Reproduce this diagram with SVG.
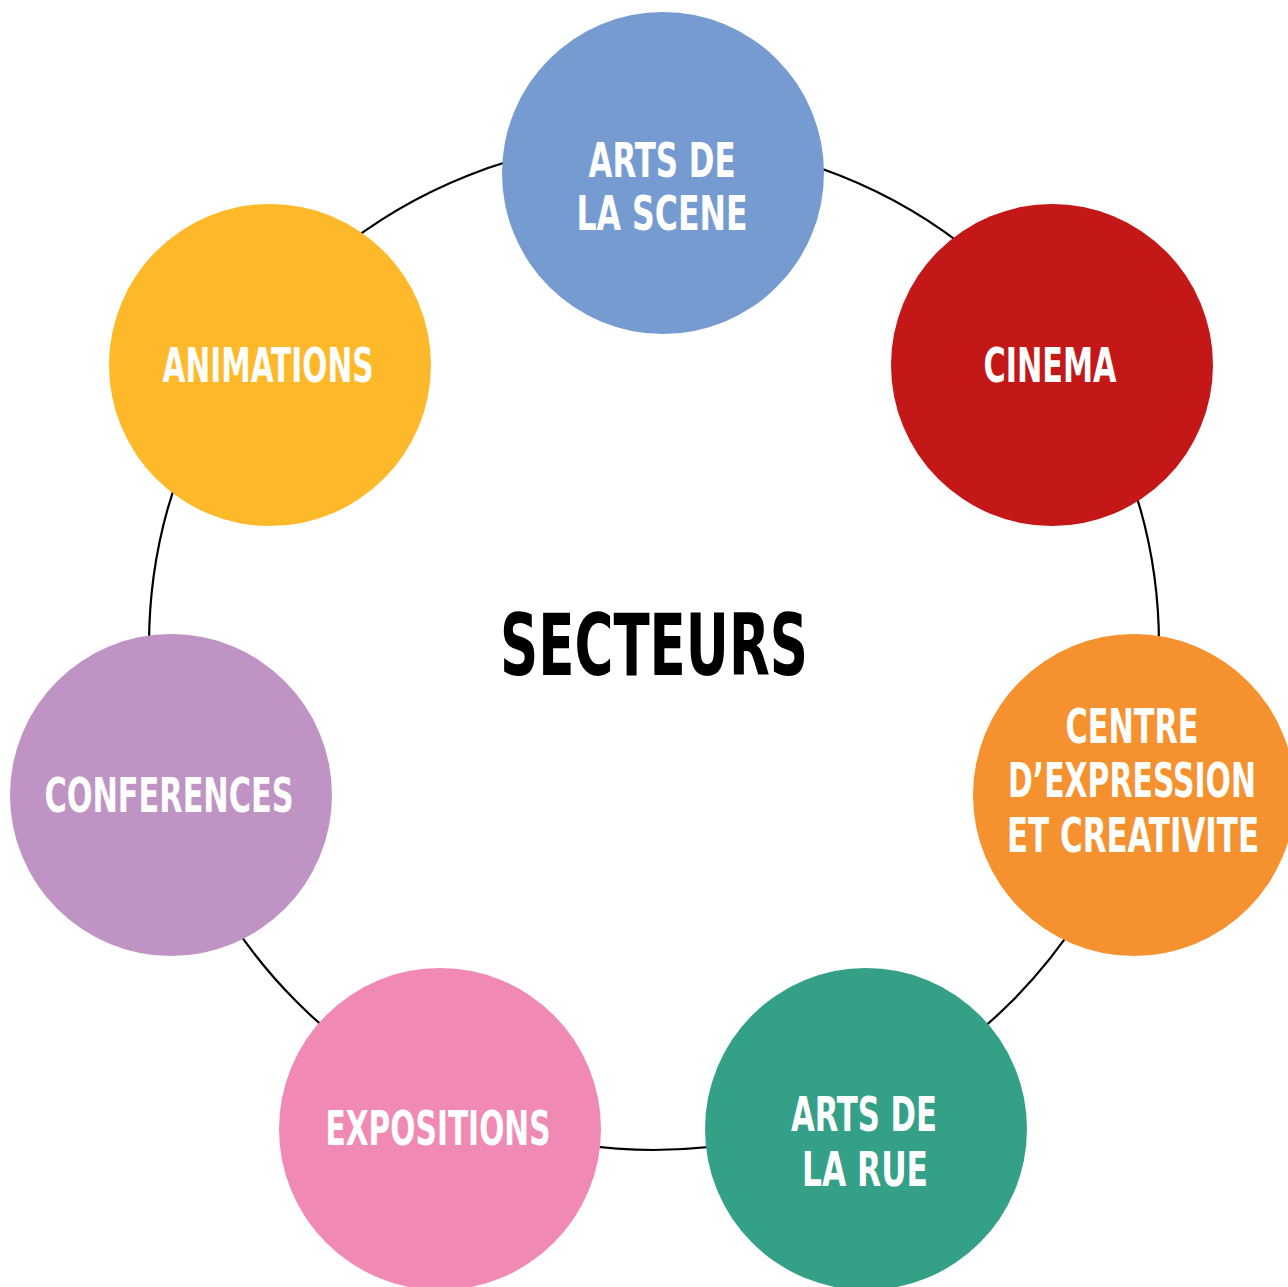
<svg xmlns="http://www.w3.org/2000/svg" width="1288" height="1287" viewBox="0 0 1288 1287">
<style>
.n{stroke:none}
.t{font-family:"DejaVu Sans Condensed","Liberation Sans Narrow","Liberation Sans",sans-serif;font-weight:bold;font-stretch:condensed;fill:#fff;font-size:48px;text-anchor:middle}
.c{font-family:"DejaVu Sans Condensed","Liberation Sans Narrow","Liberation Sans",sans-serif;font-weight:bold;font-stretch:condensed;fill:#000;font-size:86px;text-anchor:middle}
</style>
<rect width="1288" height="1287" fill="#fff"/>
<g id="connectors">
<circle cx="654" cy="645" r="505" fill="none" stroke="#000" stroke-width="2.2"/>
</g>
<text class="c" x="654" y="675" textLength="308" lengthAdjust="spacingAndGlyphs">SECTEURS</text>
<g id="arts-scene">
<circle class="n" cx="663" cy="173" r="161" fill="#759BD1"/>
<text class="t" x="662" y="177" textLength="147" lengthAdjust="spacingAndGlyphs">ARTS DE</text>
<text class="t" x="662" y="230" textLength="171" lengthAdjust="spacingAndGlyphs">LA SCENE</text>
</g>
<g id="cinema">
<circle class="n" cx="1052" cy="365" r="161" fill="#C41718"/>
<text class="t" x="1050" y="382" textLength="133" lengthAdjust="spacingAndGlyphs">CINEMA</text>
</g>
<g id="centre">
<circle class="n" cx="1134" cy="795" r="161" fill="#F5922F"/>
<text class="t" x="1132" y="743" textLength="133" lengthAdjust="spacingAndGlyphs">CENTRE</text>
<text class="t" x="1132" y="797" textLength="248" lengthAdjust="spacingAndGlyphs">D’EXPRESSION</text>
<text class="t" x="1133" y="852" textLength="252" lengthAdjust="spacingAndGlyphs">ET CREATIVITE</text>
</g>
<g id="arts-rue">
<circle class="n" cx="866" cy="1129" r="161" fill="#35A088"/>
<text class="t" x="864" y="1131" textLength="146" lengthAdjust="spacingAndGlyphs">ARTS DE</text>
<text class="t" x="865" y="1186" textLength="126" lengthAdjust="spacingAndGlyphs">LA RUE</text>
</g>
<g id="expositions">
<circle class="n" cx="440" cy="1129" r="161" fill="#F08AB5"/>
<text class="t" x="438" y="1145" textLength="225" lengthAdjust="spacingAndGlyphs">EXPOSITIONS</text>
</g>
<g id="conferences">
<circle class="n" cx="171" cy="795" r="161" fill="#BF94C4"/>
<text class="t" x="169" y="812" textLength="249" lengthAdjust="spacingAndGlyphs">CONFERENCES</text>
</g>
<g id="animations">
<circle class="n" cx="270" cy="365" r="161" fill="#FDB92A"/>
<text class="t" x="268" y="382" textLength="211" lengthAdjust="spacingAndGlyphs">ANIMATIONS</text>
</g>
</svg>
